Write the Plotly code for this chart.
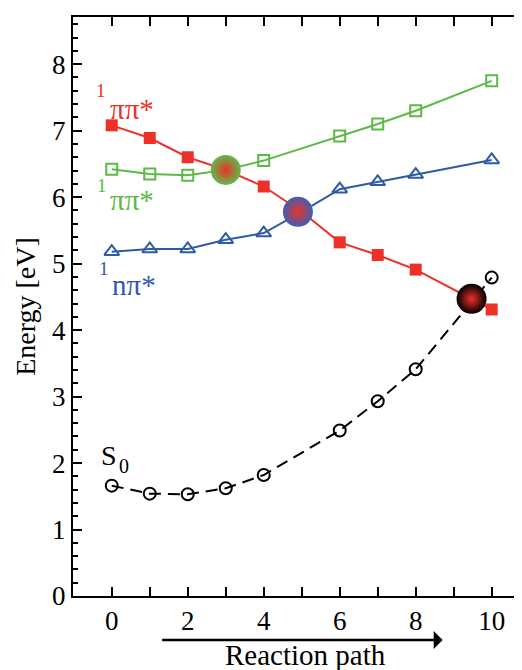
import plotly.graph_objects as go

# ---- data ----
x_red = [0, 1, 2, 3, 4, 5, 6, 7, 8, 10]
pp_red = [7.08, 6.89, 6.60, 6.41, 6.16, 5.78, 5.32, 5.13, 4.91, 4.31]

x_green = [0, 1, 2, 3, 4, 6, 7, 8, 10]
pp_green = [6.42, 6.35, 6.33, 6.41, 6.55, 6.92, 7.10, 7.30, 7.75]

x_blue = [0, 1, 2, 3, 4, 5, 6, 7, 8, 10]
npi_blue = [5.18, 5.22, 5.22, 5.36, 5.46, 5.78, 6.12, 6.23, 6.34, 6.56]

x_s0 = [0, 1, 2, 3, 4, 6, 7, 8, 10]
s0 = [1.66, 1.54, 1.53, 1.62, 1.82, 2.49, 2.93, 3.41, 4.79]

ci_x = [3.0, 4.9, 9.47]
ci_y = [6.41, 5.78, 4.47]
ci_edge = ["#5fba4c", "#3f5fb0", "#000000"]

x_tickvals = list(range(0, 11))
x_ticktext = [str(v) if v % 2 == 0 else "" for v in x_tickvals]
y_tickvals = list(range(0, 9))

RED = "#ee3128"
GREEN = "#5cb946"
BLUE = "#2f5aa8"
FONT = "Liberation Serif"

fig = go.Figure()

fig.add_trace(go.Scatter(x=x_green, y=pp_green, mode="lines+markers",
                         line=dict(color=GREEN, width=2),
                         marker=dict(symbol="square-open", size=11, color=GREEN, line=dict(width=2))))
fig.add_trace(go.Scatter(x=x_blue, y=npi_blue, mode="lines+markers",
                         line=dict(color=BLUE, width=2),
                         marker=dict(symbol="triangle-up-open", size=13, color=BLUE, line=dict(width=2))))
fig.add_trace(go.Scatter(x=x_red, y=pp_red, mode="lines+markers",
                         line=dict(color=RED, width=2),
                         marker=dict(symbol="square", size=12, color=RED)))
fig.add_trace(go.Scatter(x=x_s0, y=s0, mode="lines+markers",
                         line=dict(color="black", width=2, dash="12px,7px"),
                         marker=dict(symbol="circle-open", size=12, color="black", line=dict(width=2))))
fig.add_trace(go.Scatter(x=ci_x, y=ci_y, mode="markers",
                         marker=dict(symbol="circle", size=30, color=ci_edge,
                                     gradient=dict(type="radial", color=RED),
                                     line=dict(width=0))))
# invisible trace to enable right axis ticks
fig.add_trace(go.Scatter(x=[None], y=[None], yaxis="y2", showlegend=False))

tf = dict(family=FONT, size=27, color="black")

fig.update_layout(
    width=522, height=670,
    margin=dict(l=65, r=6, t=9, b=82),
    paper_bgcolor="white", plot_bgcolor="white",
    showlegend=False,
    font=dict(family=FONT, color="black"),
    xaxis=dict(range=[-1.02, 10.85], tickvals=x_tickvals, ticktext=x_ticktext,
               ticks="inside", ticklen=9, tickwidth=2, tickcolor="black",
               showline=True, linewidth=2, linecolor="black", mirror="ticks",
               showgrid=False, zeroline=False, tickfont=tf, automargin=False),
    yaxis=dict(range=[0, 8.71], tickvals=y_tickvals,
               ticks="inside", ticklen=9, tickwidth=2, tickcolor="black",
               minor=dict(dtick=0.2, tick0=0, ticks="inside", ticklen=5, tickwidth=1.5,
                          tickcolor="black", showgrid=False),
               showline=True, linewidth=2, linecolor="black", mirror=False,
               showgrid=False, zeroline=False, tickfont=tf, automargin=False,
               title=dict(text="Energy [eV]", font=dict(family=FONT, size=28), standoff=8)),
    yaxis2=dict(range=[0, 8.71], overlaying="y", side="right", tickvals=y_tickvals,
                ticks="inside", ticklen=7, tickwidth=2, tickcolor="black",
                showticklabels=False, showline=False, showgrid=False, zeroline=False,
                automargin=False),
)

ann = []
def lab(text, x, y, color, size):
    ann.append(dict(text=text, x=x, y=y, xref="x", yref="y", showarrow=False,
                    font=dict(family=FONT, size=size, color=color),
                    xanchor="center", yanchor="middle"))

lab("1", -0.28, 7.60, RED, 19)
lab("ππ*", 0.52, 7.33, RED, 29)
lab("1", -0.26, 6.17, GREEN, 19)
lab("ππ*", 0.52, 5.96, GREEN, 29)
lab("1", -0.20, 4.92, BLUE, 19)
lab("nπ*", 0.58, 4.68, BLUE, 29)
lab("S", -0.08, 2.12, "black", 28)
lab("0", 0.32, 1.95, "black", 20)

ann.append(dict(text="Reaction path", x=5.09, y=-0.102, xref="x", yref="paper",
                showarrow=False, font=dict(family=FONT, size=29, color="black"),
                xanchor="center", yanchor="middle"))
ann.append(dict(text="", x=8.71, y=-0.076, xref="x", yref="paper",
                showarrow=True, ax=-282, ay=0, axref="pixel", ayref="pixel",
                arrowhead=1, arrowsize=1.2, arrowwidth=2.5, arrowcolor="black"))

fig.update_layout(annotations=ann)
fig.write_html("out.html")
